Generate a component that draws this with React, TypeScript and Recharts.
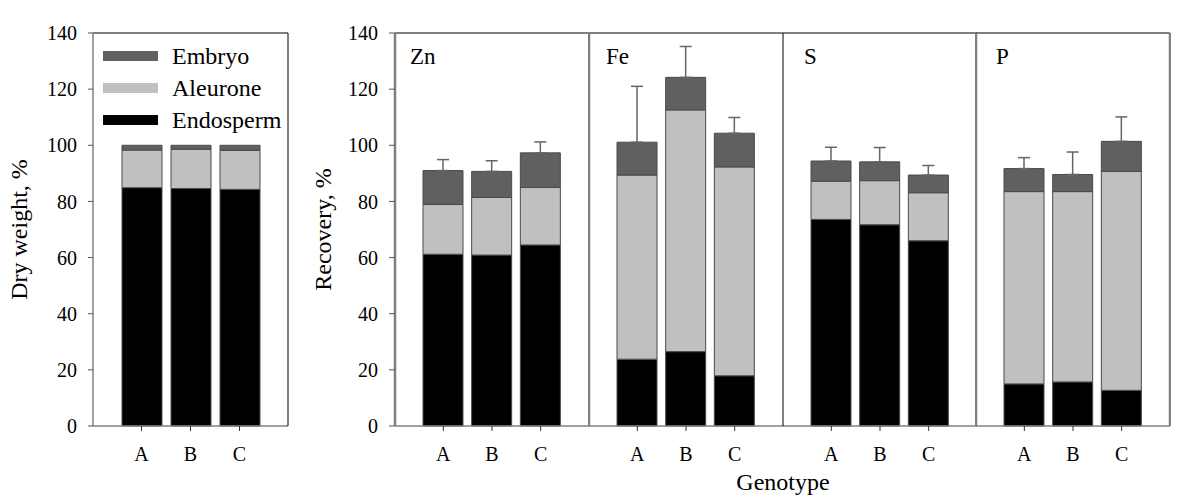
import React from 'react'
import { BarChart, Bar, XAxis, YAxis, Legend, ErrorBar } from 'recharts'

const genotypes = ['A', 'B', 'C']
const layerNames = ['Endosperm', 'Aleurone', 'Embryo']
const layerFills = ['#000000', '#c0c0c0', '#606060']
const legendOrder = ['Embryo', 'Aleurone', 'Endosperm']
const yTicks = [0, 20, 40, 60, 80, 100, 120, 140]

// dry weight share, % (A, B, C)
const dryEndosperm = [84.9, 84.6, 84.3]
const dryAleurone = [13.4, 14.0, 13.9]
const dryEmbryo = [1.7, 1.4, 1.8]

// recovery, % - one row per element, values for A, B, C
const elements = ['Zn', 'Fe', 'S', 'P']
const recEndosperm = [
  [61.2, 60.9, 64.5],
  [23.8, 26.5, 17.9],
  [73.6, 71.7, 66.0],
  [15.0, 15.7, 12.7],
]
const recAleurone = [
  [17.7, 20.5, 20.5],
  [65.6, 86.1, 74.4],
  [13.6, 15.7, 17.1],
  [68.5, 67.8, 78.0],
]
const recEmbryo = [
  [12.1, 9.3, 12.3],
  [11.7, 11.6, 12.0],
  [7.2, 6.7, 6.3],
  [8.2, 6.1, 10.7],
]
const recError = [
  [3.9, 3.8, 3.9],
  [19.9, 11.0, 5.6],
  [4.9, 5.1, 3.4],
  [3.9, 8.0, 8.7],
]

const serif = '"Liberation Serif", "Times New Roman", Times, serif'
const tickStyle = { fill: '#000', fontSize: 20, fontFamily: serif }
const CHART_H = 501
const PANEL_W = 194
const margin = { top: 32, right: 0, bottom: 45, left: 0 }

// panel borders, roughly as they look in the figure
const panelLeft = [300, 589, 783, 976]
const borderColor = ['#808080', '#808080', '#000000', '#808080']
const borderWidth = [2.5, 2.5, 1, 2.5]
const labelNudge = [15, 17, 21, 20]

const dryData = genotypes.map((g, i) => ({
  genotype: g,
  Endosperm: dryEndosperm[i],
  Aleurone: dryAleurone[i],
  Embryo: dryEmbryo[i],
}))

const recData = elements.map((_, e) =>
  genotypes.map((g, i) => ({
    genotype: g,
    Endosperm: recEndosperm[e][i],
    Aleurone: recAleurone[e][i],
    Embryo: recEmbryo[e][i],
    err: [0, recError[e][i]],
  }))
)

const renderLegend = (props: any) => {
  const items = [...(props.payload || [])].sort(
    (a: any, b: any) => legendOrder.indexOf(a.value) - legendOrder.indexOf(b.value)
  )
  return (
    <div style={{ fontFamily: serif, fontSize: 24, color: '#000' }}>
      {items.map((item: any) => (
        <div key={item.value} style={{ display: 'flex', alignItems: 'center', height: 32 }}>
          <span style={{ display: 'inline-block', width: 55, height: 10, background: item.color, marginRight: 14 }} />
          <span style={{ fontFamily: serif }}>{item.value}</span>
        </div>
      ))}
    </div>
  )
}

const stackBars = (withError: boolean) =>
  layerNames.map((name, k) => (
    <Bar
      key={name}
      dataKey={name}
      stackId="s"
      fill={layerFills[k]}
      stroke="#4a4a4a"
      strokeWidth={1}
      barSize={40}
      isAnimationActive={false}
    >
      {withError && k === layerNames.length - 1 ? (
        <ErrorBar dataKey="err" width={6} stroke="#666" strokeWidth={1.5} direction="y" />
      ) : null}
    </Bar>
  ))

const App = () => {
  return (
    <div style={{ position: 'absolute', left: 0, top: 0, width: 1200, height: 501, background: '#fff' }}>
      {/* dry weight panel */}
      <div style={{ position: 'absolute', left: 0, top: 0 }}>
        <BarChart width={300} height={CHART_H} data={dryData} margin={{ ...margin, right: 11 }}>
          <XAxis
            dataKey="genotype"
            height={30}
            padding={{ left: 24, right: 24 }}
            tick={tickStyle}
            tickSize={5}
            tickMargin={16}
            axisLine={{ stroke: '#808080', strokeWidth: 1.5 }}
            tickLine={{ stroke: '#333' }}
          />
          <XAxis xAxisId="top" dataKey="genotype" orientation="top" height={1} tick={false} tickLine={false} axisLine={{ stroke: '#000' }} />
          <YAxis
            width={93}
            domain={[0, 140]}
            ticks={yTicks}
            interval={0}
            tick={tickStyle}
            tickSize={5}
            tickMargin={11}
            axisLine={{ stroke: '#808080', strokeWidth: 1.5 }}
            tickLine={{ stroke: '#555' }}
            label={{
              value: 'Dry weight, %',
              angle: -90,
              position: 'insideLeft',
              offset: 18,
              style: { textAnchor: 'middle', fontSize: 24, fontFamily: serif, fill: '#000' },
            }}
          />
          <YAxis yAxisId="right" orientation="right" width={1} tick={false} tickLine={false} axisLine={{ stroke: '#000' }} />
          <Legend
            layout="vertical"
            align="center"
            verticalAlign="middle"
            wrapperStyle={{ left: 103, top: 40, width: 200 }}
            content={renderLegend}
          />
          {stackBars(false)}
        </BarChart>
      </div>

      {/* recovery panels */}
      {elements.map((el, e) => {
        const first = e === 0
        const last = e === elements.length - 1
        const yw = first ? 95 : 1
        const left = first ? panelLeft[e] : panelLeft[e] - 1
        return (
          <div key={el} style={{ position: 'absolute', left, top: 0 }}>
            <BarChart
              width={yw + PANEL_W + (last ? 1 : 0)}
              height={CHART_H}
              data={recData[e]}
              margin={margin}
            >
              <XAxis
                dataKey="genotype"
                height={30}
                padding={{ left: 24, right: 24 }}
                tick={tickStyle}
                tickSize={5}
                tickMargin={16}
                axisLine={{ stroke: '#808080', strokeWidth: 1.5 }}
                tickLine={{ stroke: '#333' }}
              />
              <XAxis xAxisId="top" dataKey="genotype" orientation="top" height={1} tick={false} tickLine={false} axisLine={{ stroke: '#000' }} />
              <YAxis
                width={yw}
                domain={[0, 140]}
                ticks={yTicks}
                interval={0}
                tick={first ? tickStyle : false}
                tickSize={first ? 6 : 0}
                tickMargin={first ? 11 : 0}
                axisLine={{ stroke: borderColor[e], strokeWidth: borderWidth[e] }}
                tickLine={first ? { stroke: '#555' } : false}
                label={
                  first
                    ? {
                        value: 'Recovery, %',
                        angle: -90,
                        position: 'insideLeft',
                        offset: 22,
                        style: { textAnchor: 'middle', fontSize: 24, fontFamily: serif, fill: '#000' },
                      }
                    : undefined
                }
              />
              {last ? (
                <YAxis yAxisId="right" orientation="right" width={1} tick={false} tickLine={false} axisLine={{ stroke: '#808080', strokeWidth: 2.5 }} />
              ) : null}
              {stackBars(true)}
            </BarChart>
            <div
              style={{
                position: 'absolute',
                left: yw + labelNudge[e],
                top: 45,
                fontFamily: serif,
                fontSize: 23,
                lineHeight: '23px',
                color: '#000',
              }}
            >
              {el}
            </div>
          </div>
        )
      })}

      <div
        style={{
          position: 'absolute',
          left: 683,
          width: 200,
          top: 470,
          textAlign: 'center',
          fontFamily: serif,
          fontSize: 24,
          lineHeight: '24px',
          color: '#000',
        }}
      >
        Genotype
      </div>
    </div>
  )
}

export default App
